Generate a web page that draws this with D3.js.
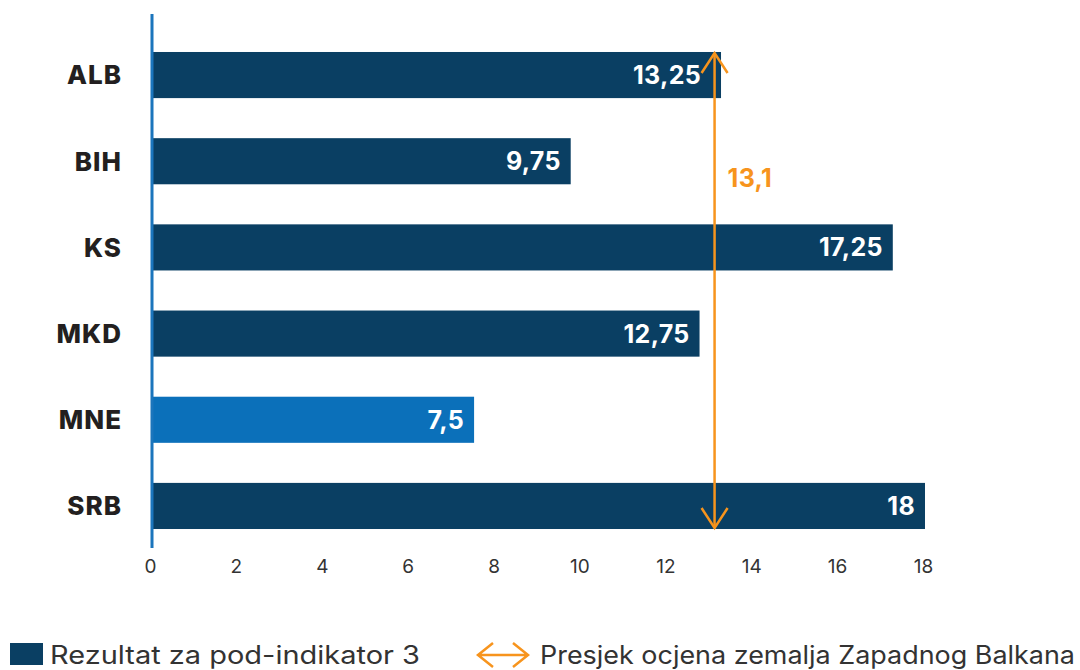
<!DOCTYPE html>
<html>
<head>
<meta charset="utf-8">
<script src="https://cdn.jsdelivr.net/npm/d3@7"></script>
<style>
  body { margin: 0; background: #fff; }
  svg { font-family: 'Inter', 'Open Sans', sans-serif; }
</style>
</head>
<body>
<script>
const w = 1080;
const h = 670;

const countries = ['ALB', 'BIH', 'KS', 'MKD', 'MNE', 'SRB'];
const scores = [13.25, 9.75, 17.25, 12.75, 7.5, 18];
const labels = ['13,25', '9,75', '17,25', '12,75', '7,5', '18'];
const highlight = 'MNE';
const average = 13.1;
const averageLabel = '13,1';
const xTicks = [0, 2, 4, 6, 8, 10, 12, 14, 16, 18];
const legendItems = ['Rezultat za pod-indikator 3', 'Presjek ocjena zemalja Zapadnog Balkana'];

const navy = '#0a3f63';
const blue = '#0b70ba';
const orange = '#f7941d';

const svg = d3.select('body')
  .append('svg')
  .attr('width', w)
  .attr('height', h);

const x = d3.scaleLinear().domain([0, 18]).range([152, 925]);
const y = d3.scaleBand().domain(countries).range([32, 549]).paddingInner(0.465).paddingOuter(0.232);

// bars
svg.selectAll('rect.bar')
  .data(countries)
  .enter()
  .append('rect')
  .attr('class', 'bar')
  .attr('x', x(0) + 1)
  .attr('y', d => y(d))
  .attr('width', (d, i) => x(scores[i]) - x(0) - 1)
  .attr('height', y.bandwidth())
  .attr('fill', d => d === highlight ? blue : navy);

// value labels
svg.selectAll('text.val')
  .data(countries)
  .enter()
  .append('text')
  .attr('class', 'val')
  .text((d, i) => labels[i])
  .attr('x', (d, i) => x(scores[i]) - (d === 'ALB' ? 20 : 10))
  .attr('y', d => y(d) + y.bandwidth() / 2)
  .attr('dy', '0.36em')
  .attr('text-anchor', 'end')
  .style('font-size', '25px')
  .style('font-weight', 700)
  .style('letter-spacing', '0.3px')
  .style('fill', '#fff');

// category labels
svg.selectAll('text.cat')
  .data(countries)
  .enter()
  .append('text')
  .attr('class', 'cat')
  .text(d => d)
  .attr('x', 122)
  .attr('y', d => y(d) + y.bandwidth() / 2)
  .attr('dy', '0.36em')
  .attr('text-anchor', 'end')
  .style('font-size', '26px')
  .style('font-weight', 800)
  .style('letter-spacing', '1px')
  .style('fill', '#231f20');

// x axis, labels only
const xAxis = svg.append('g')
  .attr('transform', 'translate(0,556)')
  .call(d3.axisBottom(x).tickValues(xTicks).tickSize(0).tickPadding(0));
xAxis.select('.domain').remove();
xAxis.selectAll('text')
  .attr('dy', '0.9em')
  .attr('dx', -2)
  .style('font-family', "'Inter', 'Open Sans', sans-serif")
  .style('font-size', '19px')
  .style('fill', '#333');

// vertical axis line
svg.append('line')
  .attr('x1', x(0)).attr('x2', x(0))
  .attr('y1', 14).attr('y2', 548)
  .attr('stroke', '#1b75bc')
  .attr('stroke-width', 3);

// average arrow
const ax = x(average);
const yTop = y('ALB');
const yBot = y('SRB') + y.bandwidth();
const arrow = svg.append('g')
  .attr('fill', 'none')
  .attr('stroke', orange)
  .attr('stroke-width', 2.5);
arrow.append('line')
  .attr('x1', ax).attr('x2', ax)
  .attr('y1', yTop + 1).attr('y2', yBot - 1);
arrow.append('path')
  .attr('d', `M${ax - 13},${yTop + 21}L${ax},${yTop + 1}L${ax + 13},${yTop + 21}`);
arrow.append('path')
  .attr('d', `M${ax - 13},${yBot - 21}L${ax},${yBot - 1}L${ax + 13},${yBot - 21}`);

svg.append('text')
  .text(averageLabel)
  .attr('x', ax + 13)
  .attr('y', 187)
  .style('font-size', '25px')
  .style('font-weight', 700)
  .style('letter-spacing', '0.3px')
  .style('fill', orange);

// legend
const legend = svg.append('g');
legend.append('rect')
  .attr('x', 10).attr('y', 643)
  .attr('width', 33).attr('height', 22)
  .attr('fill', navy);
legend.append('text')
  .text(legendItems[0])
  .attr('x', 50)
  .attr('y', 664)
  .attr('textLength', 370)
  .attr('lengthAdjust', 'spacingAndGlyphs')
  .style('font-size', '25px')
  .style('font-weight', 400)
  .style('fill', '#333');

const lx = 478, ly = 655;
legend.append('path')
  .attr('d', `M${lx + 15},${ly - 12}L${lx},${ly}L${lx + 15},${ly + 12}M${lx},${ly}L${lx + 50},${ly}M${lx + 35},${ly - 12}L${lx + 50},${ly}L${lx + 35},${ly + 12}`)
  .attr('fill', 'none')
  .attr('stroke', orange)
  .attr('stroke-width', 2.5);
legend.append('text')
  .text(legendItems[1])
  .attr('x', 540)
  .attr('y', 664)
  .attr('textLength', 535)
  .attr('lengthAdjust', 'spacingAndGlyphs')
  .style('font-size', '25px')
  .style('font-weight', 400)
  .style('fill', '#333');
</script>
</body>
</html>
